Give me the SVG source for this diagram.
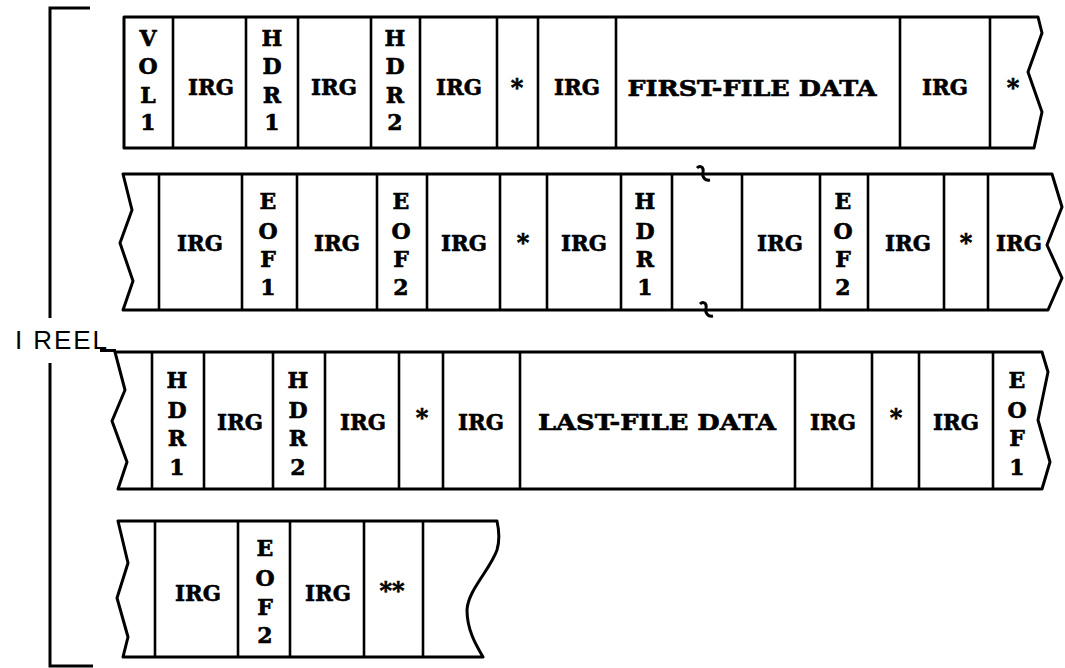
<svg xmlns="http://www.w3.org/2000/svg" width="1065" height="668" viewBox="0 0 1065 668">
<style>
.tape{fill:none;stroke:#000;stroke-width:3;stroke-linejoin:round}
.div{stroke:#000;stroke-width:2.6}
.br{stroke:#000;stroke-width:3;fill:none}
text{font-family:"DejaVu Serif","Liberation Serif",serif;font-weight:bold;font-size:22px;fill:#000;stroke:#000;stroke-width:0.6;text-anchor:middle;dominant-baseline:central}
.st{font-size:24px}
.reel{font-family:"Liberation Sans",Arial,sans-serif;font-weight:normal;font-size:26px;stroke:none;text-anchor:start;dominant-baseline:alphabetic}
</style>
<rect width="1065" height="668" fill="#fff"/>
<g id="bracket">
<path class="br" d="M90,8 H50 V318 M50,363 V666 H93"/>
<text class="reel" x="15" y="349" textLength="92" lengthAdjust="spacing">I REEL</text>
<path class="br" d="M100,350.5 H116"/>
</g>
<g id="row1">
<path class="tape" d="M124,17 H1038 L1042,33 L1028,72 L1042,112 L1034,148 H124 Z"/>
<g id="connectors1">
<line class="div" x1="173" y1="17" x2="173" y2="148"/>
<line class="div" x1="246" y1="17" x2="246" y2="148"/>
<line class="div" x1="298" y1="17" x2="298" y2="148"/>
<line class="div" x1="371" y1="17" x2="371" y2="148"/>
<line class="div" x1="420" y1="17" x2="420" y2="148"/>
<line class="div" x1="497" y1="17" x2="497" y2="148"/>
<line class="div" x1="538" y1="17" x2="538" y2="148"/>
<line class="div" x1="616" y1="17" x2="616" y2="148"/>
<line class="div" x1="900" y1="17" x2="900" y2="148"/>
<line class="div" x1="990" y1="17" x2="990" y2="148"/>
</g>
<g id="r1-vol1"><text x="148"><tspan x="148" y="38">V</tspan><tspan x="148" y="66">O</tspan><tspan x="148" y="95">L</tspan><tspan x="148" y="122">1</tspan></text></g>
<g id="r1-irg1"><text x="211" y="87" textLength="46" lengthAdjust="spacingAndGlyphs">IRG</text></g>
<g id="r1-hdr1"><text x="272"><tspan x="272" y="38">H</tspan><tspan x="272" y="66">D</tspan><tspan x="272" y="95">R</tspan><tspan x="272" y="122">1</tspan></text></g>
<g id="r1-irg2"><text x="334" y="87" textLength="46" lengthAdjust="spacingAndGlyphs">IRG</text></g>
<g id="r1-hdr2"><text x="395"><tspan x="395" y="38">H</tspan><tspan x="395" y="66">D</tspan><tspan x="395" y="95">R</tspan><tspan x="395" y="122">2</tspan></text></g>
<g id="r1-irg3"><text x="459" y="87" textLength="46" lengthAdjust="spacingAndGlyphs">IRG</text></g>
<g id="r1-star1"><text class="st" x="517" y="87">*</text></g>
<g id="r1-irg4"><text x="577" y="87" textLength="46" lengthAdjust="spacingAndGlyphs">IRG</text></g>
<g id="r1-data"><text x="752" y="88" textLength="249" lengthAdjust="spacingAndGlyphs">FIRST-FILE DATA</text></g>
<g id="r1-irg5"><text x="945" y="87" textLength="46" lengthAdjust="spacingAndGlyphs">IRG</text></g>
<g id="r1-star2"><text class="st" x="1013" y="87">*</text></g>
</g>
<g id="row2">
<path class="tape" d="M123,174 H1052 L1062,207 L1047,245 L1062,278 L1048,310 H123 L133,281 L120,243 L132,210 Z"/>
<g id="connectors2">
<line class="div" x1="159" y1="174" x2="159" y2="310"/>
<line class="div" x1="242" y1="174" x2="242" y2="310"/>
<line class="div" x1="297" y1="174" x2="297" y2="310"/>
<line class="div" x1="377" y1="174" x2="377" y2="310"/>
<line class="div" x1="427" y1="174" x2="427" y2="310"/>
<line class="div" x1="500" y1="174" x2="500" y2="310"/>
<line class="div" x1="547" y1="174" x2="547" y2="310"/>
<line class="div" x1="621" y1="174" x2="621" y2="310"/>
<line class="div" x1="672" y1="174" x2="672" y2="310"/>
<line class="div" x1="742" y1="174" x2="742" y2="310"/>
<line class="div" x1="820" y1="174" x2="820" y2="310"/>
<line class="div" x1="868" y1="174" x2="868" y2="310"/>
<line class="div" x1="944" y1="174" x2="944" y2="310"/>
<line class="div" x1="988" y1="174" x2="988" y2="310"/>
<path class="br" d="M697,168 c3,-3 7,-1 6,4 c-1,4 1,9 7,8"/>
<path class="br" d="M700,304 c3,-3 7,-1 6,4 c-1,4 1,9 7,8"/>
</g>
<g id="r2-irg1"><text x="200" y="243" textLength="46" lengthAdjust="spacingAndGlyphs">IRG</text></g>
<g id="r2-eof1"><text x="268"><tspan x="268" y="201">E</tspan><tspan x="268" y="231">O</tspan><tspan x="268" y="259">F</tspan><tspan x="268" y="287">1</tspan></text></g>
<g id="r2-irg2"><text x="337" y="243" textLength="46" lengthAdjust="spacingAndGlyphs">IRG</text></g>
<g id="r2-eof2"><text x="401"><tspan x="401" y="201">E</tspan><tspan x="401" y="231">O</tspan><tspan x="401" y="259">F</tspan><tspan x="401" y="287">2</tspan></text></g>
<g id="r2-irg3"><text x="464" y="243" textLength="46" lengthAdjust="spacingAndGlyphs">IRG</text></g>
<g id="r2-star1"><text class="st" x="523" y="242">*</text></g>
<g id="r2-irg4"><text x="584" y="243" textLength="46" lengthAdjust="spacingAndGlyphs">IRG</text></g>
<g id="r2-hdr1"><text x="645"><tspan x="645" y="201">H</tspan><tspan x="645" y="231">D</tspan><tspan x="645" y="259">R</tspan><tspan x="645" y="287">1</tspan></text></g>
<g id="r2-irg5"><text x="780" y="243" textLength="46" lengthAdjust="spacingAndGlyphs">IRG</text></g>
<g id="r2-eof2b"><text x="843"><tspan x="843" y="201">E</tspan><tspan x="843" y="231">O</tspan><tspan x="843" y="259">F</tspan><tspan x="843" y="287">2</tspan></text></g>
<g id="r2-irg6"><text x="908" y="243" textLength="46" lengthAdjust="spacingAndGlyphs">IRG</text></g>
<g id="r2-star2"><text class="st" x="966" y="242">*</text></g>
<g id="r2-irg7"><text x="1019" y="243" textLength="46" lengthAdjust="spacingAndGlyphs">IRG</text></g>
</g>
<g id="row3">
<path class="tape" d="M115,352 H1042 L1048,372 L1038,420 L1050,462 L1042,489 H118 L127,462 L112,421 L125,390 Z"/>
<g id="connectors3">
<line class="div" x1="152" y1="352" x2="152" y2="489"/>
<line class="div" x1="204" y1="352" x2="204" y2="489"/>
<line class="div" x1="273" y1="352" x2="273" y2="489"/>
<line class="div" x1="325" y1="352" x2="325" y2="489"/>
<line class="div" x1="399" y1="352" x2="399" y2="489"/>
<line class="div" x1="443" y1="352" x2="443" y2="489"/>
<line class="div" x1="520" y1="352" x2="520" y2="489"/>
<line class="div" x1="795" y1="352" x2="795" y2="489"/>
<line class="div" x1="872" y1="352" x2="872" y2="489"/>
<line class="div" x1="919" y1="352" x2="919" y2="489"/>
<line class="div" x1="993" y1="352" x2="993" y2="489"/>
</g>
<g id="r3-hdr1"><text x="177"><tspan x="177" y="380">H</tspan><tspan x="177" y="410">D</tspan><tspan x="177" y="438">R</tspan><tspan x="177" y="467">1</tspan></text></g>
<g id="r3-irg1"><text x="240" y="422" textLength="46" lengthAdjust="spacingAndGlyphs">IRG</text></g>
<g id="r3-hdr2"><text x="298"><tspan x="298" y="380">H</tspan><tspan x="298" y="410">D</tspan><tspan x="298" y="438">R</tspan><tspan x="298" y="467">2</tspan></text></g>
<g id="r3-irg2"><text x="363" y="422" textLength="46" lengthAdjust="spacingAndGlyphs">IRG</text></g>
<g id="r3-star1"><text class="st" x="422" y="417">*</text></g>
<g id="r3-irg3"><text x="481" y="422" textLength="46" lengthAdjust="spacingAndGlyphs">IRG</text></g>
<g id="r3-data"><text x="657" y="422" textLength="238" lengthAdjust="spacingAndGlyphs">LAST-FILE DATA</text></g>
<g id="r3-irg4"><text x="833" y="422" textLength="46" lengthAdjust="spacingAndGlyphs">IRG</text></g>
<g id="r3-star2"><text class="st" x="896" y="417">*</text></g>
<g id="r3-irg5"><text x="956" y="422" textLength="46" lengthAdjust="spacingAndGlyphs">IRG</text></g>
<g id="r3-eof1"><text x="1017"><tspan x="1017" y="380">E</tspan><tspan x="1017" y="410">O</tspan><tspan x="1017" y="438">F</tspan><tspan x="1017" y="467">1</tspan></text></g>
</g>
<g id="row4">
<path class="tape" d="M118,521 H497 C499,530 500,540 497,550 C490,570 468,590 467,610 C467,630 476,645 483,657 H123 L128,637 L117,598 L128,563 Z"/>
<g id="connectors4">
<line class="div" x1="155" y1="521" x2="155" y2="657"/>
<line class="div" x1="238" y1="521" x2="238" y2="657"/>
<line class="div" x1="290" y1="521" x2="290" y2="657"/>
<line class="div" x1="364" y1="521" x2="364" y2="657"/>
<line class="div" x1="423" y1="521" x2="423" y2="657"/>
</g>
<g id="r4-irg1"><text x="198" y="593" textLength="46" lengthAdjust="spacingAndGlyphs">IRG</text></g>
<g id="r4-eof2"><text x="265"><tspan x="265" y="548">E</tspan><tspan x="265" y="578">O</tspan><tspan x="265" y="607">F</tspan><tspan x="265" y="635">2</tspan></text></g>
<g id="r4-irg2"><text x="328" y="593" textLength="46" lengthAdjust="spacingAndGlyphs">IRG</text></g>
<g id="r4-stars"><text class="st" x="392" y="590">**</text></g>
</g>
</svg>
